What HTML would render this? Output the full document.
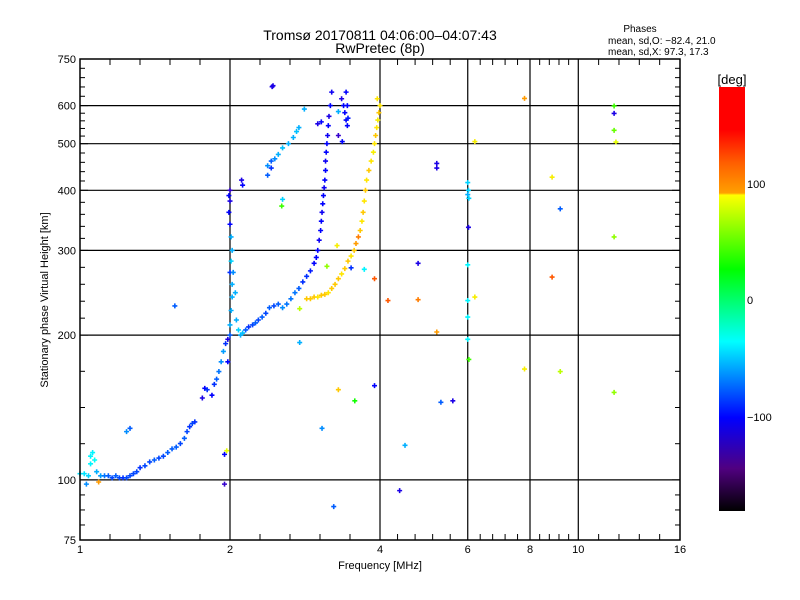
<!DOCTYPE html>
<html><head><meta charset="utf-8"><style>
body{margin:0;background:#fff;}
svg{display:block;font-family:"Liberation Sans",sans-serif;}
</style></head><body>
<svg id="chart" width="800" height="600" xmlns="http://www.w3.org/2000/svg">
<rect width="800" height="600" fill="#fff"/>
<text x="380" y="40" font-size="14" text-anchor="middle">Tromsø 20170811 04:06:00–04:07:43</text>
<text x="380" y="53" font-size="14" text-anchor="middle">RwPretec (8p)</text>
<text x="640" y="32" font-size="10" text-anchor="middle">Phases</text>
<text x="608" y="44" font-size="10">mean, sd,O: −82.4, 21.0</text>
<text x="608" y="55" font-size="10">mean, sd,X:  97.3, 17.3</text>
<g id="grid"></g>
<g id="marks"></g>
<rect x="80" y="59" width="600" height="481" fill="none" stroke="#000" stroke-width="1.5"/>
<g id="ticks"></g>
<text x="380" y="569" font-size="11" text-anchor="middle">Frequency [MHz]</text>
<text transform="translate(48,300) rotate(-90)" font-size="11" text-anchor="middle">Stationary phase Virtual Height [km]</text>
<defs><linearGradient id="cg" x1="0" y1="0" x2="0" y2="1">
<stop offset="0" stop-color="#ff0000"/><stop offset="0.1" stop-color="#ff0000"/>
<stop offset="0.18" stop-color="#ff6000"/><stop offset="0.25" stop-color="#ffa000"/>
<stop offset="0.25" stop-color="#ffa000"/><stop offset="0.255" stop-color="#ffff00"/>
<stop offset="0.43" stop-color="#00ff00"/><stop offset="0.6" stop-color="#00ffff"/>
<stop offset="0.78" stop-color="#0000ff"/><stop offset="0.9" stop-color="#500080"/>
<stop offset="1" stop-color="#000000"/></linearGradient></defs>
<rect x="719" y="87" width="26" height="424" fill="url(#cg)"/>
<text x="732" y="84" font-size="13" text-anchor="middle">[deg]</text>
<text x="747" y="188" font-size="11">100</text>
<text x="747" y="304" font-size="11">0</text>
<text x="747" y="421" font-size="11">−100</text>
</svg>
<script>
const xMajor=[1,2,4,6,8,10,16];
const yMajor=[75,100,200,300,400,500,600,750];
const yGrid=[100,200,300,400,500,600];
const xGrid=[2,4,6,8,10];
const traceFreq=[1.00,1.02,1.04,1.05,1.06,1.07,1.05,1.08,1.10,1.12,1.14,1.16,1.18,1.20,1.22,1.24,1.26,1.28,1.30,1.32,1.35,1.38,1.41,1.44,1.47,1.50,1.53,1.56,1.59,1.62,1.64,1.66,1.68,1.70,
1.76,1.78,1.80,1.84,1.86,1.88,1.90,1.92,1.94,1.96,1.98,1.98,2.00,2.00,2.01,2.02,2.02,2.00,2.01,2.02,2.01,2.00,1.99,2.00,2.00,1.99,2.03,2.05,2.06,2.08,2.10,2.12,2.15,2.18,2.22,2.25,2.28,2.32,2.36,2.40,2.45,2.50,2.55,2.60,2.65,2.70,2.75,2.80,2.85,2.90,2.95,2.98,3.00,3.02,3.04,3.05,3.06,3.07,3.08,3.09,3.10,3.11,3.11,3.12,3.13,3.14,3.15,3.16,3.18,3.20,2.11,2.12,
2.38,2.42,2.46,2.50,2.55,2.62,2.68,2.72,2.75,2.42,2.38,
3.35,3.38,3.40,3.42,3.44,3.44,3.42,3.45,3.30,3.36,3.00,3.05,
2.85,2.90,2.95,3.00,3.05,3.10,3.15,3.20,3.25,3.30,3.35,3.40,3.45,3.50,3.55,3.58,3.62,3.65,3.68,3.70,3.72,3.74,3.76,3.80,3.84,3.88,3.90,3.92,3.94,3.96,3.98,4.00,3.95];
const traceHeight=[103,103,102,112,114,110,108,104,102,102,102,101,102,101,101,101,102,103,104,106,107,109,110,111,112,114,116,117,119,122,126,129,131,132,
148,155,154,150,158,162,168,176,185,192,196,176,200,210,225,240,255,270,285,300,320,340,360,380,400,390,270,245,215,205,200,202,205,208,210,212,215,218,222,228,230,232,228,232,238,245,250,258,265,272,282,290,300,315,330,345,360,375,390,405,420,440,460,480,500,520,545,570,600,640,420,410,
450,460,465,475,490,500,515,530,540,445,430,
620,600,580,560,545,600,640,565,520,505,550,555,
238,238,240,240,242,243,245,250,255,262,268,275,285,292,300,310,320,330,345,360,380,400,420,440,460,480,500,520,540,560,580,600,620];
const tracePhase=[-45,-45,-50,-40,-40,-35,-40,-60,-65,-75,-80,-85,-80,-85,-90,-85,-85,-85,-85,-90,-85,-85,-80,-85,-85,-80,-80,-80,-85,-80,-85,-90,-85,-90,
-110,-100,-90,-100,-90,-80,-75,-70,-65,-90,-110,-100,-80,-60,-60,-60,-60,-90,-50,-60,-60,-100,-100,-110,-120,-100,-70,-60,-60,-50,-60,-55,-80,-90,-85,-80,-85,-80,-85,-80,-85,-80,-70,-75,-75,-75,-80,-90,-90,-95,-100,-100,-100,-105,-100,-100,-105,-100,-100,-105,-100,-100,-105,-100,-100,-105,-100,-110,-100,-105,-110,-100,
-70,-80,-70,-60,-55,-60,-60,-55,-60,-90,-80,
-110,-100,-100,-100,-100,-100,-100,-95,-120,-100,-110,-100,
100,100,100,95,100,100,95,100,100,100,95,100,100,95,100,110,120,100,95,100,95,100,95,100,95,90,95,100,95,90,100,95,95];
const outFreq=[1.55,1.26,1.24,1.03,1.09,1.95,1.95,1.97,2.43,3.23,3.06,3.30,3.56,3.90,4.49,4.38,4.77,4.77,5.2,5.2,5.2,5.3,5.6,4.15,6.0,6.02,6.0,6.03,6.02,6.0,6.0,6.0,6.0,6.03,6.2,6.2,7.8,8.86,9.2,8.86,7.8,9.2,11.8,11.8,11.8,11.9,11.8,11.8,2.76,2.54,2.55,3.28,3.13,2.76,3.5,3.72,3.9,2.82,2.44,3.3];
const outHeight=[230,128,126,98,99,98,113,115,657,88,128,154,146,157,118,95,237,282,455,445,203,145,146,236,415,400,392,385,335,280,236,218,196,178,240,505,621,426,366,264,170,168,599,578,533,504,320,152,193,371,383,307,278,227,276,274,262,590,660,583];
const outPhase=[-80,-80,-70,-70,110,-120,-100,80,-110,-80,-70,100,30,-100,-60,-110,120,-110,-110,-110,110,-80,-110,130,-50,-50,-60,-50,-110,-40,-40,-40,-40,40,90,90,110,90,-80,130,90,70,40,-110,50,80,60,60,-60,40,-50,90,60,70,-90,-40,130,-60,-110,-60];

const X=f=>80+150*Math.log2(f);
const Y=h=>540-144.8*Math.log2(h/75);
const stops=[[180,[255,0,0]],[150,[255,0,0]],[125,[255,110,0]],[105,[255,170,0]],[95,[255,230,0]],[80,[230,255,0]],[26,[0,255,0]],[-37,[0,255,255]],[-70,[0,140,255]],[-100,[0,0,255]],[-130,[80,0,180]],[-180,[0,0,0]]];
function col(p){for(let i=0;i<stops.length-1;i++){const a=stops[i],b=stops[i+1];if(p<=a[0]&&p>=b[0]){const t=(a[0]-p)/(a[0]-b[0]);const c=a[1].map((v,k)=>Math.round(v+(b[1][k]-v)*t));return `rgb(${c})`;}}return '#000';}
const NS='http://www.w3.org/2000/svg';
function mk(tag,attrs,parent){const e=document.createElementNS(NS,tag);for(const k in attrs)e.setAttribute(k,attrs[k]);parent.appendChild(e);return e;}
const grid=document.getElementById('grid'),ticks=document.getElementById('ticks'),marks=document.getElementById('marks');
xGrid.forEach(v=>{const l=mk('line',{x1:X(v),x2:X(v),y1:59,y2:540,stroke:'#000','stroke-width':1.2},grid);

});
yGrid.forEach(v=>{const l=mk('line',{x1:80,x2:680,y1:Y(v),y2:Y(v),stroke:'#000','stroke-width':1.2},grid);

});
for(let i=0;i<xMajor.length;i++){const x=X(xMajor[i]);
const t=mk('text',{x:x,y:553,'font-size':11,'text-anchor':'middle'},ticks);t.textContent=xMajor[i];


if(i<xMajor.length-1){const x2=X(xMajor[i+1]);for(let k=1;k<5;k++){const xx=x+(x2-x)*k/5;
mk('line',{x1:xx,x2:xx,y1:540,y2:534,stroke:'#000'},ticks);mk('line',{x1:xx,x2:xx,y1:59,y2:65,stroke:'#000'},ticks);}}}
for(let i=0;i<yMajor.length;i++){const y=Y(yMajor[i]);
const t=mk('text',{x:76,y:y+4,'font-size':11,'text-anchor':'end'},ticks);t.textContent=yMajor[i];


mk('line',{x1:80,x2:88,y1:y,y2:y,stroke:'#000'},ticks);mk('line',{x1:672,x2:680,y1:y,y2:y,stroke:'#000'},ticks);
if(i<yMajor.length-1){const y2=Y(yMajor[i+1]);const n=(yMajor[i]<200)?4:5;for(let k=1;k<n;k++){const yy=y+(y2-y)*k/n;
mk('line',{x1:80,x2:85,y1:yy,y2:yy,stroke:'#000'},ticks);mk('line',{x1:675,x2:680,y1:yy,y2:yy,stroke:'#000'},ticks);}}}
function plus(f,h,p){const x=X(f),y=Y(h),c=col(p);
const g=mk('path',{d:`M${x-2.5},${y}h5M${x},${y-2.5}v5`,stroke:c,'stroke-width':1.6},marks);

}
traceFreq.forEach((f,i)=>plus(f,traceHeight[i],tracePhase[i]));
outFreq.forEach((f,i)=>plus(f,outHeight[i],outPhase[i]));
</script>
</body></html>
